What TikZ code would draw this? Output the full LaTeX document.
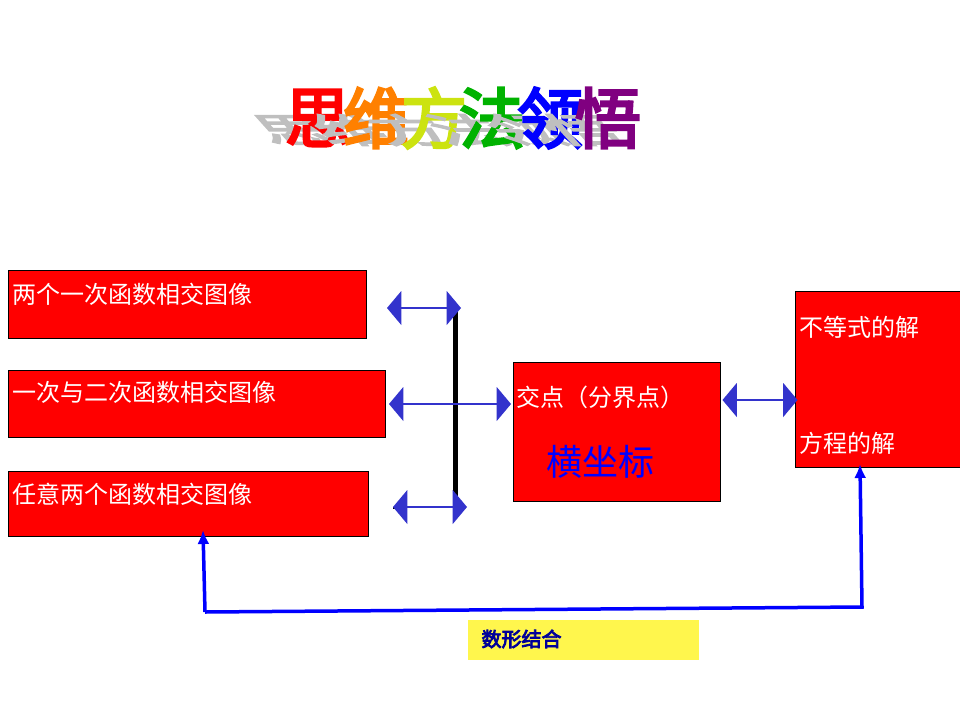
\documentclass[tikz,border=0pt]{standalone}
\usepackage{fontspec}
\newfontfamily\cjk{Noto Sans CJK SC}
\newfontfamily\cjkbold{Noto Sans CJK SC}[FakeBold=4]
\usetikzlibrary{shapes.arrows,arrows.meta}

\tikzset{
  redbox/.style={draw=black, fill=red, thin},
  boxtext/.style={text=white, anchor=west, inner sep=0pt, font=\cjk\fontsize{24}{28}\selectfont},
  blockarrow/.style={double arrow, fill=blue!75!black!80, draw=none, minimum height=#1, minimum width=34pt, double arrow head extend=4pt, inner sep=0pt, double arrow tip angle=100},
}

\begin{document}
\begin{tikzpicture}[x=1pt, y=-1pt]
		\useasboundingbox (0,0) rectangle (960,720);

		% title with shadow
		\foreach \c/\col [count=\i] in {思/red, 维/orange, 方/yellow!80!green, 法/green!70!black, 领/blue, 悟/violet}{
			\node[text=gray!50, font=\cjkbold\fontsize{68}{70}\selectfont, xslant=-0.9, yscale=0.5] at (235+58*\i,130) {\c};
			\node[text=\col, font=\cjkbold\fontsize{66}{70}\selectfont] at (260+58*\i,118) {\c};
		}

		% left boxes
		\filldraw[redbox] (8,270) rectangle (366,338);
		\node[boxtext] (twolin) at (12,294) {两个一次函数相交图像};
		\filldraw[redbox] (8,370) rectangle (385,437);
		\node[boxtext] (linquad) at (12,392) {一次与二次函数相交图像};
		\filldraw[redbox] (8,471) rectangle (368,536);
		\node[boxtext] (anytwo) at (12,494) {任意两个函数相交图像};

		% middle and right boxes
		\filldraw[redbox] (513,362) rectangle (720,501);
		\node[boxtext] (cross) at (516,397) {交点（分界点）};
		\node[text=blue, font=\cjk\fontsize{36}{40}\selectfont] (abscissa) at (600,462) {横坐标};
		\filldraw[redbox] (795,291) rectangle (960,467);
		\node[boxtext] (ineq) at (799,327) {不等式的解};
		\node[boxtext] (equ) at (799,443) {方程的解};

		% bracket and block arrows
		\coordinate (barTop) at (455,305);
		\coordinate (barBot) at (455,512);
		\draw[line width=5pt] (barTop) -- (barBot);
		\draw[line width=2pt] (393,508) -- (400,508);
		\node[blockarrow=74pt] (arrTop) at (424,308) {};
		\node[blockarrow=122pt] (arrMid) at (450,404) {};
		\node[blockarrow=74pt] (arrBot) at (430,507) {};
		\node[blockarrow=75pt] (arrRight) at (760,400) {};

		% feedback loop
		\coordinate (loopL) at (205,612);
		\coordinate (loopR) at (862,607);
		\draw[blue, line width=3.5pt, -{Latex[length=14pt,width=12pt]}] (loopL) -- (loopR) -- (860,464);
		\draw[blue, line width=3.5pt, -{Latex[length=14pt,width=12pt]}] (loopL) -- (203,530);

		% label
		\fill[yellow!70!white] (468,620) rectangle (699,660);
		\node[text=blue!60!black, font=\cjkbold\fontsize{20}{24}\selectfont, anchor=west] (numshape) at (478,639) {数形结合};
	  \end{tikzpicture}
\end{document}
